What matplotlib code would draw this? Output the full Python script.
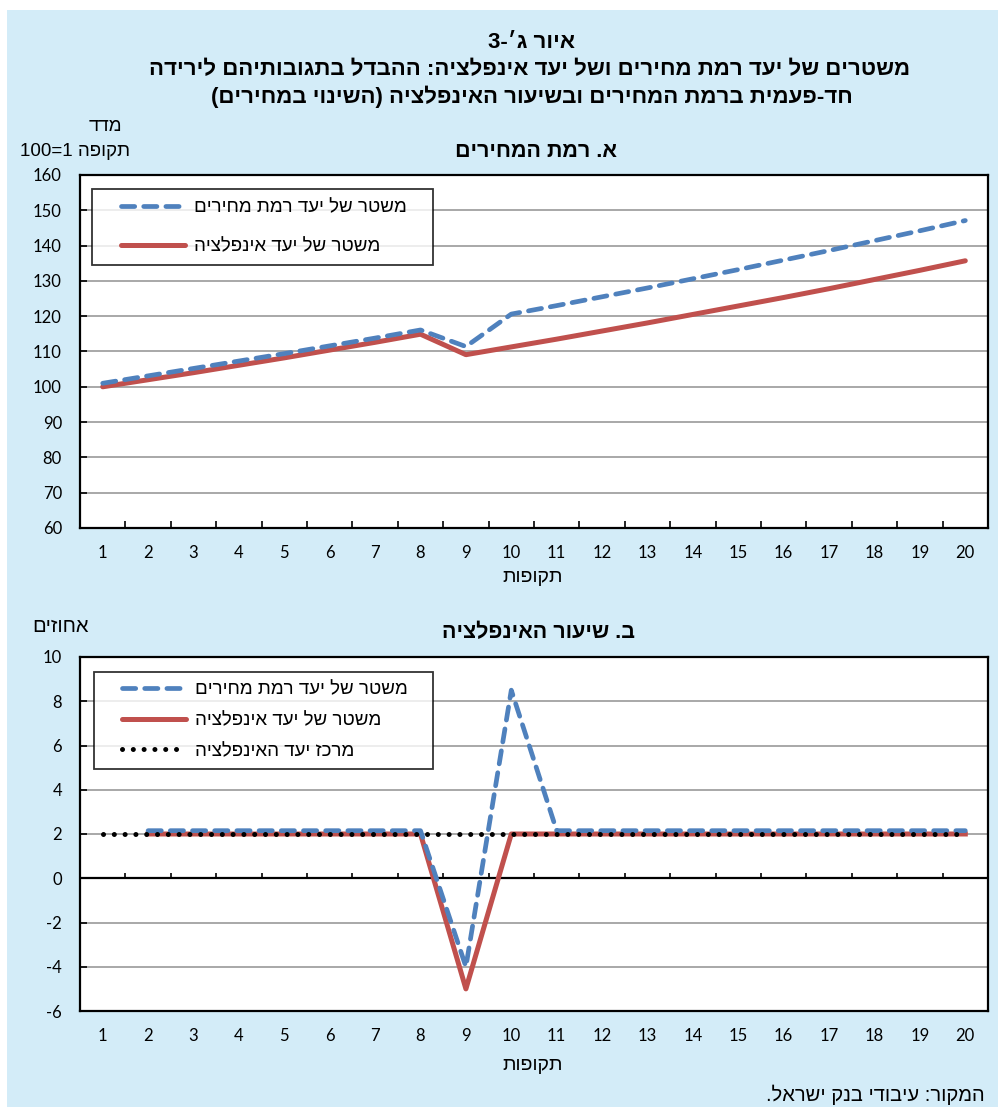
import re
import matplotlib
matplotlib.use("Agg")
import matplotlib.pyplot as plt
from matplotlib.patches import Rectangle
from matplotlib.lines import Line2D
from matplotlib.legend_handler import HandlerLine2D

# ---------------- data ----------------
periods = list(range(1, 21))
price_level_regime = [101.0, 103.1, 105.2, 107.3, 109.4, 111.6, 113.8, 116.1, 111.4, 120.6,
                      123.0, 125.5, 128.0, 130.6, 133.2, 135.9, 138.6, 141.4, 144.2, 147.1]
inflation_regime = [100.0, 102.0, 104.0, 106.1, 108.2, 110.4, 112.6, 114.9, 109.1, 111.3,
                    113.5, 115.8, 118.1, 120.5, 122.9, 125.3, 127.8, 130.4, 133.0, 135.7]

periods_b = list(range(2, 21))
infl_price_level_regime = [2.15, 2.15, 2.15, 2.15, 2.15, 2.15, 2.15, -4.0, 8.5,
                           2.15, 2.15, 2.15, 2.15, 2.15, 2.15, 2.15, 2.15, 2.15, 2.15]
infl_inflation_regime = [2, 2, 2, 2, 2, 2, 2, -5, 2, 2, 2, 2, 2, 2, 2, 2, 2, 2, 2]
infl_target = [2] * 20

title1 = "איור ג׳-3"
title2 = "משטרים של יעד רמת מחירים ושל יעד אינפלציה: ההבדל בתגובותיהם לירידה"
title3 = "חד-פעמית ברמת המחירים ובשיעור האינפלציה (השינוי במחירים)"
panel_a = "א. רמת המחירים"
panel_b = "ב. שיעור האינפלציה"
ylab_a1 = "מדד"
ylab_a2 = "תקופה 1=100"
ylab_b = "אחוזים"
xlab = "תקופות"
lab_price = "משטר של יעד רמת מחירים"
lab_infl = "משטר של יעד אינפלציה"
lab_target = "מרכז יעד האינפלציה"
source = "המקור: עיבודי בנק ישראל."

# --------------- helpers ---------------
def rtl(s):
    """Logical-order Hebrew -> visual order for left-to-right rendering."""
    r = s[::-1]
    r = re.sub(r"[0-9A-Za-z]+", lambda m: m.group(0)[::-1], r)
    return r.translate(str.maketrans("()", ")("))


class ShiftedLine(HandlerLine2D):
    """Legend line drawn only in the right part of the handle box (extra left padding)."""
    def __init__(self, frac=0.23, **kw):
        super().__init__(**kw)
        self.frac = frac

    def create_artists(self, legend, orig_handle, xdescent, ydescent, width, height,
                       fontsize, trans):
        shift = width * self.frac
        return super().create_artists(legend, orig_handle, xdescent - shift, ydescent,
                                      width - shift, height, fontsize, trans)


W, H = 1008, 1110
fig = plt.figure(figsize=(W / 100, H / 100), dpi=100)
fig.patch.set_facecolor("white")
bg = "#D3ECF8"
fig.add_artist(Rectangle((7 / W, 1 - 1107 / H), (998 - 7) / W, (1107 - 10) / H,
                         transform=fig.transFigure, facecolor=bg, edgecolor="none", zorder=0))

HEB = ["Liberation Sans", "DejaVu Sans"]
NUM = ["Lato", "DejaVu Sans"]

def fx(x):
    return x / W

def fy(y):
    return 1 - y / H

def ftext(x, y, s, size, bold=False, ha="center", family=HEB):
    fig.text(fx(x), fy(y), rtl(s), fontsize=size, fontweight="bold" if bold else "normal",
             ha=ha, va="center", family=family, color="black")

ftext(532, 42, title1, 16, bold=True)
ftext(530, 70, title2, 16, bold=True)
ftext(532, 97, title3, 16, bold=True)
ftext(105, 127, ylab_a1, 13.5)
ftext(75, 152, ylab_a2, 13.5)
ftext(536, 152, panel_a, 15.5, bold=True)
ftext(533, 578, xlab, 14)
ftext(60, 627, ylab_b, 14.5)
ftext(538, 633, panel_b, 15.5, bold=True)
ftext(533, 1065, xlab, 14)
ftext(985, 1095, source, 14.5, ha="right")

blue = "#4F81BD"
red = "#C0504D"
grid_c = "#9A9A9A"

def make_axes(top, bottom):
    ax = fig.add_axes([fx(80), fy(bottom), fx(988) - fx(80), fy(top) - fy(bottom)])
    ax.set_facecolor("white")
    for sp in ax.spines.values():
        sp.set_linewidth(1.6)
        sp.set_color("black")
    ax.set_xlim(0.5, 20.5)
    ax.set_xticks(periods)
    ax.set_xticklabels([str(p) for p in periods], family=NUM, fontsize=12)
    ax.tick_params(axis="x", which="major", length=0, pad=12)
    ax.tick_params(axis="y", which="major", direction="in", length=5, width=1.2, pad=13)
    ax.grid(axis="y", color=grid_c, linewidth=1.2, zorder=1)
    ax.set_axisbelow(True)
    return ax

PAD = "   "  # trailing room on the right side of legend labels
hmap = {Line2D: ShiftedLine(frac=0.23)}

# ---------------- panel A ----------------
axA = make_axes(175, 528)
axA.set_ylim(60, 160)
axA.set_yticks(range(60, 161, 10))
axA.set_yticklabels([str(v) for v in range(60, 161, 10)], family=NUM, fontsize=12)
axA.set_xticks([p + 0.5 for p in periods[:-1]], minor=True)
axA.tick_params(axis="x", which="minor", direction="in", length=5, width=1.2)
axA.plot(periods, inflation_regime, color=red, lw=3.6, solid_capstyle="round", zorder=3)
axA.plot(periods, price_level_regime, color=blue, lw=3.4, dashes=(2.8, 1.9),
         dash_capstyle="round", zorder=4)
hA = [Line2D([], [], color=blue, lw=3.4, dashes=(2.8, 1.9), dash_capstyle="round"),
      Line2D([], [], color=red, lw=3.6, solid_capstyle="round")]
legA = axA.legend(hA, [rtl(lab_price) + PAD, rtl(lab_infl) + PAD], loc="upper left",
                  bbox_to_anchor=(fx(92), fy(189)), bbox_transform=fig.transFigure,
                  prop={"family": HEB, "size": 13.5}, frameon=True, fancybox=False,
                  edgecolor="black", handlelength=4.4, labelspacing=1.15,
                  borderpad=0.55, handletextpad=0.5, borderaxespad=0, handler_map=hmap)
legA.get_frame().set_linewidth(1.3)

# ---------------- panel B ----------------
axB = make_axes(657, 1011)
axB.set_ylim(-6, 10)
axB.set_yticks(range(-6, 11, 2))
axB.set_yticklabels([str(v) for v in range(-6, 11, 2)], family=NUM, fontsize=12)
axB.axhline(0, color="black", lw=1.6, zorder=2)
axB.vlines([p + 0.5 for p in periods[:-1]], 0, 0.25, color="black", lw=1.2, zorder=2)
axB.plot(periods_b, infl_inflation_regime, color=red, lw=3.6, zorder=3)
axB.plot(periods_b, infl_price_level_regime, color=blue, lw=3.4, dashes=(2.8, 1.9),
         dash_capstyle="round", zorder=4)
axB.plot(periods, infl_target, color="black", lw=3.6, dashes=(0.01, 2.15),
         dash_capstyle="round", zorder=5)
hB = [Line2D([], [], color=blue, lw=3.4, dashes=(2.8, 1.9), dash_capstyle="round"),
      Line2D([], [], color=red, lw=3.6, solid_capstyle="round"),
      Line2D([], [], color="black", lw=3.6, dashes=(0.01, 2.15), dash_capstyle="round")]
legB = axB.legend(hB, [rtl(lab_price) + PAD, rtl(lab_infl) + PAD, rtl(lab_target) + PAD],
                  loc="upper left",
                  bbox_to_anchor=(fx(94), fy(672)), bbox_transform=fig.transFigure,
                  prop={"family": HEB, "size": 13.5}, frameon=True, fancybox=False,
                  edgecolor="black", handlelength=4.4, labelspacing=0.72,
                  borderpad=0.5, handletextpad=0.5, borderaxespad=0, handler_map=hmap)
legB.get_frame().set_linewidth(1.3)

fig.savefig("out.png", dpi=100, facecolor="white")
